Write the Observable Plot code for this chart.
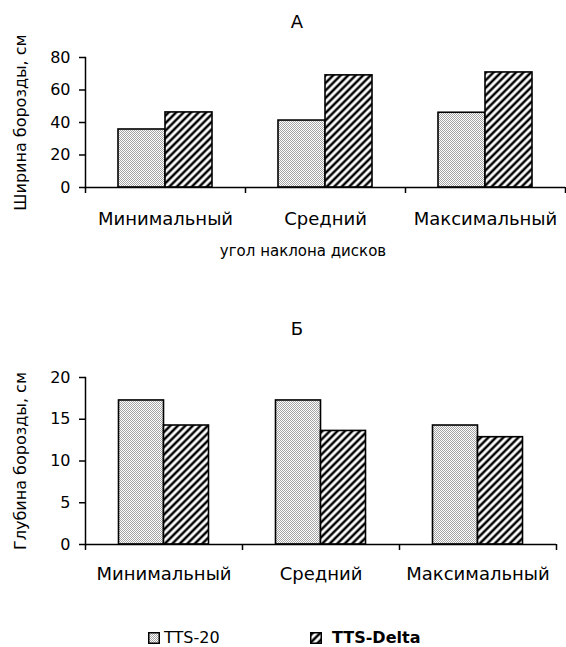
<!DOCTYPE html>
<html><head><meta charset="utf-8">
<script src="https://cdn.jsdelivr.net/npm/d3@7"></script>
<script src="https://cdn.jsdelivr.net/npm/@observablehq/plot@0.6"></script>
<style>
body{margin:0;background:#fff;font-family:"DejaVu Sans",sans-serif;color:#000}
#root{position:relative;width:566px;height:647px;overflow:hidden;background:#fff}
.abs{position:absolute;left:0}
.t{position:absolute;transform:translate(-50%,-50%);white-space:nowrap;line-height:1}
</style></head><body>
<svg width="0" height="0" style="position:absolute">
<defs>
<pattern id="dots" patternUnits="userSpaceOnUse" width="2" height="2">
<rect width="2" height="2" fill="#fff"/><rect width="1" height="1" fill="#a4a4a4"/><rect x="1" y="1" width="1" height="1" fill="#a4a4a4"/>
</pattern>
<pattern id="hatch" patternUnits="userSpaceOnUse" width="5.3" height="5.3" patternTransform="rotate(45)">
<rect width="5.3" height="5.3" fill="#fff"/><line x1="2.65" y1="-1" x2="2.65" y2="7" stroke="#000" stroke-width="2.5"/>
</pattern>
</defs></svg>
<div id="root">
  <div class="t" style="left:297px;top:22px;font-size:18px">А</div>
  <div id="chartA" class="abs" style="top:0"></div>
  <div class="t" style="left:303px;top:251px;font-size:15px">угол наклона дисков</div>
  <div class="t" style="left:297px;top:329px;font-size:18px">Б</div>
  <div id="chartB" class="abs" style="top:300px"></div>
  <div id="legend" style="position:absolute;left:0;top:628px;width:566px;height:20px">
    <svg style="position:absolute;left:148px;top:4px" width="12" height="12"><rect x="0.75" y="0.75" width="10.5" height="10.5" fill="url(#dots)" stroke="#000" stroke-width="1.5"/></svg>
    <span style="position:absolute;left:164px;top:0;font-size:16px;line-height:20px">TTS-20</span>
    <svg style="position:absolute;left:310px;top:4px" width="12" height="12"><rect x="0.75" y="0.75" width="10.5" height="10.5" fill="url(#hatch)" stroke="#000" stroke-width="1.5"/></svg>
    <span style="position:absolute;left:332px;top:0;font-size:16px;font-weight:bold;line-height:20px">TTS-Delta</span>
  </div>
</div>
<script>
const categories = ["Минимальный", "Средний", "Максимальный"];
const seriesNames = ["TTS-20", "TTS-Delta"];
// A: ширина борозды, см
const widthTTS20 = [35.7, 41.2, 46.0];
const widthDelta = [46.2, 69.0, 70.8];
// Б: глубина борозды, см
const depthTTS20 = [17.25, 17.25, 14.25];
const depthDelta = [14.25, 13.6, 12.85];
const yTicksA = [0, 20, 40, 60, 80];
const yTicksB = [0, 5, 10, 15, 20];

function chart({tts, delta, ticks, label, mt, mb, mr, h, barW, labelGap}) {
  const ml = 85;
  const W = (566 - ml - mr) / categories.length;
  const gap = (W - 2 * barW) / 2;
  const rows = (vals, s) => categories.map((c, i) => ({cat: c, series: s, value: vals[i]}));
  return Plot.plot({
    width: 566, height: h,
    marginLeft: ml, marginRight: mr, marginTop: mt, marginBottom: mb,
    style: {fontFamily: "DejaVu Sans", fontSize: "16px", color: "#000", background: "transparent", overflow: "visible"},
    x: {domain: categories, padding: 0, label: null},
    y: {domain: [ticks[0], ticks[ticks.length - 1]], label: null},
    marks: [
      Plot.barY(rows(tts, seriesNames[0]), {x: "cat", y: "value", fill: "url(#dots)", stroke: "#000", strokeWidth: 1.6, insetLeft: gap, insetRight: gap + barW}),
      Plot.barY(rows(delta, seriesNames[1]), {x: "cat", y: "value", fill: "url(#hatch)", stroke: "#000", strokeWidth: 1.6, insetLeft: gap + barW, insetRight: gap}),
      Plot.ruleY([0], {stroke: "#000", strokeWidth: 1.5}),
      Plot.frame({anchor: "left", stroke: "#000", strokeWidth: 1.5}),
      Plot.axisY({ticks, tickSize: 6, tickPadding: 9, strokeWidth: 1.5, label, labelAnchor: "center", labelOffset: 71, labelArrow: "none", fontSize: 16}),
      Plot.axisX({tickSize: 0, tickPadding: labelGap, fontSize: 18, label: null}),
      Plot.axisX({tickSize: 6, tickFormat: () => "", dx: -W / 2, strokeWidth: 1.5, label: null}),
      Plot.axisX({ticks: [categories[categories.length - 1]], tickSize: 6, tickFormat: () => "", dx: W / 2, strokeWidth: 1.5, label: null})
    ]
  });
}

document.getElementById("chartA").append(chart({
  tts: widthTTS20, delta: widthDelta, ticks: yTicksA, label: "Ширина борозды, см",
  mt: 57, mb: 83, mr: 1, h: 270, barW: 47, labelGap: 25
}));
document.getElementById("chartB").append(chart({
  tts: depthTTS20, delta: depthDelta, ticks: yTicksB, label: "Глубина борозды, см",
  mt: 77, mb: 56, mr: 10, h: 300, barW: 45, labelGap: 23
}));
</script>
</body></html>
